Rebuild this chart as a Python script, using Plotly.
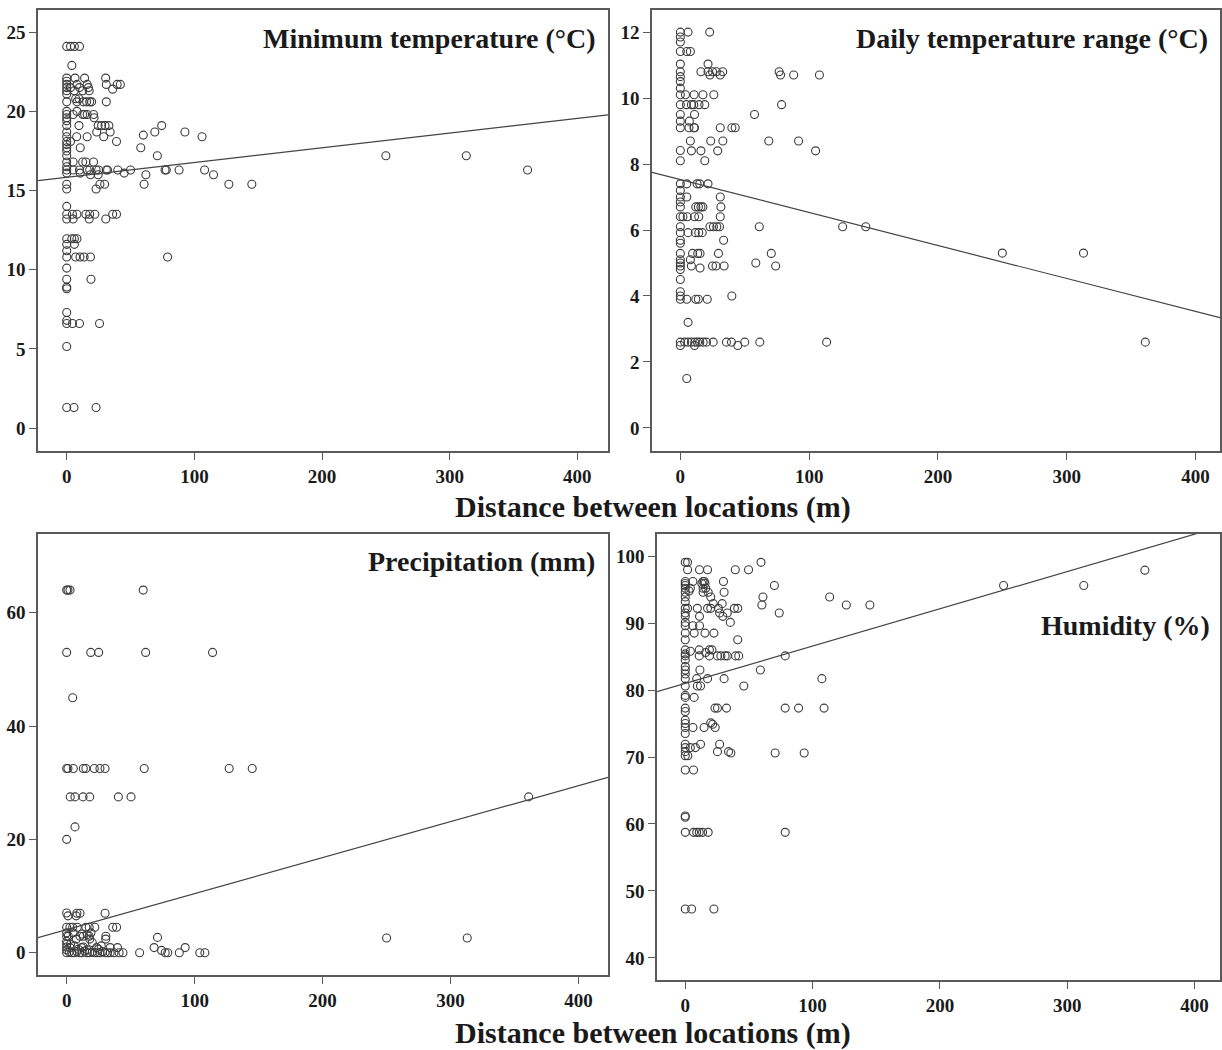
import plotly.graph_objects as go

# ---------------- data ----------------
# Minimum temperature (°C) vs distance (m)
tmin_x = [0]*42 + [
    3, 6, 10, 4,
    6.5, 14, 30.5,
    8, 16, 31, 39.5, 42,
    3, 10, 17, 36,
    6, 12.5, 17.6,
    8, 13, 15.6, 18, 19.5, 31,
    7, 9.6,
    8,
    5, 12.5, 14, 16, 21, 21.4,
    9.6, 24.6, 27.3, 30, 33, 74.4,
    23.5, 34, 69, 92.6,
    7.8, 16, 29, 60, 106,
    39, 3,
    10.6, 58,
    71,
    5, 12.5, 15, 21,
    5, 10, 16, 18, 23, 25, 31, 32, 40, 50, 77, 78, 88, 108,
    10.6, 18.6, 24.6, 45, 62, 115,
    26, 29.7, 60.6, 127, 145,
    23,
    4.5, 8, 15, 18, 22, 36, 39,
    5, 17.6, 30.6,
    4, 6, 8, 6,
    7, 10.4, 13.6, 18.6, 79,
    19,
    4.5, 10, 25.7,
    5.7, 23,
    250, 313, 361]
tmin_y = [24.1, 22.1, 21.9, 21.7, 21.5, 21.3, 21.1, 20.6, 20.0, 19.8, 19.6, 19.4,
          19.1, 18.7, 18.4, 18.1, 17.9, 17.7, 17.5, 17.2, 16.8, 16.5, 16.3, 16.1,
          15.4, 15.1, 14.0, 13.5, 13.2, 11.95, 11.6, 11.2, 10.8, 10.1, 9.4, 8.9,
          8.8, 7.3, 6.8, 6.6, 5.15, 1.3] + [
    24.1, 24.1, 24.1, 22.9,
    22.1, 22.1, 22.1,
    21.7, 21.7, 21.7, 21.7, 21.7,
    21.5, 21.5, 21.5, 21.4,
    21.3, 21.3, 21.3,
    20.6, 20.6, 20.6, 20.6, 20.6, 20.6,
    20.8, 20.8,
    20.0,
    19.8, 19.8, 19.8, 19.8, 19.8, 19.6,
    19.1, 19.1, 19.1, 19.1, 19.1, 19.1,
    18.7, 18.7, 18.7, 18.7,
    18.4, 18.4, 18.4, 18.5, 18.4,
    18.1, 18.1,
    17.7, 17.7,
    17.2,
    16.8, 16.8, 16.8, 16.8,
    16.3, 16.3, 16.3, 16.3, 16.3, 16.3, 16.3, 16.3, 16.3, 16.3, 16.3, 16.3, 16.3, 16.3,
    16.1, 16.0, 16.0, 16.1, 16.0, 16.0,
    15.4, 15.4, 15.4, 15.4, 15.4,
    15.1,
    13.5, 13.5, 13.5, 13.5, 13.5, 13.5, 13.5,
    13.2, 13.2, 13.2,
    11.95, 11.95, 11.95, 11.6,
    10.8, 10.8, 10.8, 10.8, 10.8,
    9.4,
    6.6, 6.6, 6.6,
    1.3, 1.3,
    17.2, 17.2, 16.3]

# Daily temperature range (°C) vs distance (m)
dtr_x = [0]*37 + [
    6, 22.8, 5, 7.8, 21.5,
    16, 21.5, 25, 28, 32.9, 76.7,
    23, 31, 77.8, 88, 108,
    4, 10.7, 17.6, 26,
    4.7, 8.6, 10.4, 14.5, 19, 78.6,
    11, 57.6, 7,
    6.7, 10.6, 11, 31, 40, 42.6,
    7.8, 23.6, 33, 68.7, 91.8,
    8.6, 16, 29, 105,
    19,
    5, 13, 15, 21.5,
    5, 31,
    12, 14, 16, 17.5, 31.5,
    2, 5.4, 11, 14.3, 31,
    23, 25.7, 28.3, 30.4, 61.3, 126, 144,
    6, 11.6, 14.3, 17,
    33.6,
    9.5, 13.5, 15.3, 29.6, 70.6,
    7.8, 58.6,
    8.6, 15.3, 25, 27.7, 34, 74,
    40,
    5, 12, 14, 20.9,
    6,
    3.4, 6, 8.6, 11.2, 13.3, 15.1, 17.7, 20.3, 25.5, 35.8, 39.7, 50, 61.7, 113.6,
    11, 44.6,
    5,
    250, 313, 361]
dtr_y = [12.0, 11.85, 11.7, 11.41, 11.03, 10.8, 10.65, 10.5, 10.3, 10.1, 9.8, 9.5,
         9.3, 9.1, 8.41, 8.1, 7.4, 7.2, 7.0, 6.85, 6.7, 6.4, 6.1, 5.92, 5.69, 5.6,
         5.29, 5.1, 5.0, 4.91, 4.8, 4.5, 4.13, 4.0, 3.9, 2.6, 2.5] + [
    12.0, 12.0, 11.41, 11.41, 11.03,
    10.8, 10.8, 10.8, 10.8, 10.8, 10.8,
    10.7, 10.7, 10.7, 10.7, 10.7,
    10.1, 10.1, 10.1, 10.1,
    9.8, 9.8, 9.8, 9.8, 9.8, 9.8,
    9.5, 9.5, 9.3,
    9.1, 9.1, 9.1, 9.1, 9.1, 9.1,
    8.7, 8.7, 8.7, 8.7, 8.7,
    8.4, 8.4, 8.4, 8.4,
    8.1,
    7.4, 7.4, 7.4, 7.4,
    7.0, 7.0,
    6.7, 6.7, 6.7, 6.7, 6.7,
    6.4, 6.4, 6.4, 6.4, 6.4,
    6.1, 6.1, 6.1, 6.1, 6.1, 6.1, 6.1,
    5.92, 5.92, 5.92, 5.92,
    5.69,
    5.29, 5.29, 5.29, 5.29, 5.29,
    5.1, 5.0,
    4.91, 4.85, 4.91, 4.91, 4.91, 4.91,
    4.0,
    3.9, 3.9, 3.9, 3.9,
    3.2,
    2.6, 2.6, 2.6, 2.6, 2.6, 2.6, 2.6, 2.6, 2.6, 2.6, 2.6, 2.6, 2.6, 2.6,
    2.5, 2.5,
    1.5,
    5.3, 5.3, 2.6]

# Precipitation (mm) vs distance (m)
prec_x = [0]*13 + [
    1, 2.6, 59.8,
    18.8, 25, 61.7, 114,
    4.7,
    1, 5.2, 13, 15, 21.6, 26, 30, 60.6, 127, 145,
    2.8, 6.5, 12.8, 18, 40.4, 50.3, 361,
    6.5,
    8, 10.4, 30, 1, 7.4,
    2.6, 4.7, 8.3, 15, 17.6, 22, 36, 39,
    1.3, 10.4, 13, 17.6, 30.6, 71,
    7.5, 18, 30.5,
    2.6, 11.7, 23.4, 34, 39.7, 68.3, 92.6,
    74.2,
    3, 6, 9, 13, 16, 20, 25, 27, 5, 12, 16, 19,
    2, 4, 6, 8, 10, 12, 14, 16, 18, 20, 22, 24, 26, 28, 30, 32, 34, 37, 41, 44,
    57, 77, 79, 88, 104, 108,
    250, 313]
prec_y = [64, 53, 32.5, 20, 7.0, 4.5, 3.5, 2.9, 2.0, 1.5, 1.0, 0.5, 0] + [
    64, 64, 64,
    53, 53, 53, 53,
    45,
    32.5, 32.5, 32.5, 32.5, 32.5, 32.5, 32.5, 32.5, 32.5, 32.5,
    27.5, 27.5, 27.5, 27.5, 27.5, 27.5, 27.5,
    22.2,
    6.95, 6.95, 6.95, 6.5, 6.5,
    4.5, 4.5, 4.5, 4.5, 4.5, 4.5, 4.5, 4.5,
    2.9, 2.9, 2.9, 2.9, 2.9, 2.7,
    2.4, 2.4, 2.4,
    0.9, 0.9, 0.9, 0.9, 0.9, 0.9, 0.9,
    0.4,
    1.5, 1.2, 0.6, 1.0, 0.5, 1.8, 0.6, 1.2, 3.5, 3.3, 3.2, 3.5,
    0.1, 0, 0, 0.2, 0, 0, 0.3, 0, 0, 0.1, 0, 0, 0, 0.2, 0, 0, 0, 0, 0, 0,
    0, 0, 0, 0, 0, 0,
    2.6, 2.6]

# Humidity (%) vs distance (m)
hum_x = [0]*41 + [
    1.8, 59.5,
    1.8, 11.2, 17.5, 39.3, 49.7,
    6, 13.9, 15, 30,
    13, 15.5,
    70,
    4, 14, 16, 3, 14, 18, 30.5,
    20, 61, 113.4,
    60.2, 126.5, 145,
    22, 29,
    1.8, 9.5, 17.5, 20, 26, 38.6, 41.2,
    33, 73.8, 27,
    11.2, 29.5,
    35.4,
    6, 11.2,
    7, 15.5, 22.5,
    41.2,
    11, 19, 21, 4, 16,
    11, 19, 25.3, 28, 31.3, 33, 39.5, 42, 78.5,
    11.5, 59,
    9, 17.5, 30.5, 107.3,
    9.5, 12, 46,
    7,
    23.3, 25.3, 32.4, 78.5, 89, 109,
    20, 21.5,
    6, 14.8, 23.5,
    12, 27, 4, 8,
    25.3, 34, 35.8, 70.6, 93.4, 2,
    6.5,
    6.5, 9, 11, 13.6, 18, 78.5,
    5, 22.5,
    250, 313, 361]
hum_y = [99.07, 96.2, 95.9, 95.6, 95.2, 94.6, 93.9, 93.2, 92.2, 91.5, 91.0, 90.1,
         89.6, 88.5, 87.5, 86.0, 85.4, 85.1, 84.5, 83.5, 83.0, 82.4, 81.7, 80.6,
         79.2, 78.9, 77.3, 76.8, 75.5, 75.0, 74.4, 73.5, 71.9, 71.4, 70.8, 70.2,
         68.05, 61.2, 61.0, 58.75, 47.3] + [
    99.07, 99.07,
    97.97, 97.97, 97.97, 97.97, 97.97,
    96.2, 96.2, 96.2, 96.2,
    95.9, 95.9,
    95.6,
    95.2, 95.2, 95.2, 94.8, 94.6, 94.6, 94.6,
    93.9, 93.9, 93.9,
    92.7, 92.7, 92.7,
    92.9, 92.9,
    92.2, 92.2, 92.2, 92.2, 92.2, 92.2, 92.2,
    91.5, 91.5, 91.5,
    91.0, 91.0,
    90.1,
    89.6, 89.6,
    88.5, 88.5, 88.5,
    87.5,
    86.0, 86.0, 86.0, 85.8, 85.6,
    85.1, 85.1, 85.1, 85.1, 85.1, 85.1, 85.1, 85.1, 85.1,
    83.0, 83.0,
    81.7, 81.7, 81.7, 81.7,
    80.6, 80.6, 80.6,
    78.9,
    77.3, 77.3, 77.3, 77.3, 77.3, 77.3,
    75.1, 74.9,
    74.4, 74.4, 74.4,
    71.9, 71.9, 71.4, 71.4,
    70.8, 70.8, 70.6, 70.6, 70.6, 70.2,
    68.05,
    58.75, 58.75, 58.75, 58.75, 58.75, 58.75,
    47.3, 47.3,
    95.6, 95.6, 97.9]

# fitted regression lines (intercept, slope)
fit_tmin = (15.84, 0.0093)
fit_dtr = (7.53, -0.0100)
fit_prec = (4.07, 0.0635)
fit_hum = (80.99, 0.0557)

panel_titles = ["Minimum temperature (°C)", "Daily temperature range (°C)",
                "Precipitation (mm)", "Humidity (%)"]
x_title = "Distance between locations (m)"
x_ticks = [0, 100, 200, 300, 400]
tmin_ticks = [0, 5, 10, 15, 20, 25]
dtr_ticks = [0, 2, 4, 6, 8, 10, 12]
prec_ticks = [0, 20, 40, 60]
hum_ticks = [40, 50, 60, 70, 80, 90, 100]

# ---------------- figure ----------------
W, H = 1222, 1050
SERIF = "Liberation Serif"
FRAME = "#5a5a5a"
MARK = "#3c3c3c"

panels = [
    dict(x=tmin_x, y=tmin_y, fit=fit_tmin, xr=[-22.5, 424], yr=[-1.45, 26.4],
         yt=tmin_ticks, dom_x=[38, 608], dom_y=[10, 451]),
    dict(x=dtr_x, y=dtr_y, fit=fit_dtr, xr=[-22, 419], yr=[-0.70, 12.67],
         yt=dtr_ticks, dom_x=[652, 1220], dom_y=[10, 451]),
    dict(x=prec_x, y=prec_y, fit=fit_prec, xr=[-22.4, 423], yr=[-3.94, 73.9],
         yt=prec_ticks, dom_x=[38, 608], dom_y=[534, 975]),
    dict(x=hum_x, y=hum_y, fit=fit_hum, xr=[-22.2, 420], yr=[36.7, 103.3],
         yt=hum_ticks, dom_x=[657, 1220], dom_y=[534, 980]),
]

fig = go.Figure()
layout = {}
for i, p in enumerate(panels, start=1):
    xa = "x" if i == 1 else f"x{i}"
    ya = "y" if i == 1 else f"y{i}"
    fig.add_trace(go.Scatter(
        x=p["x"], y=p["y"], mode="markers", xaxis=xa, yaxis=ya,
        marker=dict(symbol="circle-open", size=8, color=MARK, line=dict(width=1.1)),
        showlegend=False, hoverinfo="x+y"))
    b0, b1 = p["fit"]
    lx = [p["xr"][0], p["xr"][1]]
    ly = [b0 + b1 * v for v in lx]
    fig.add_trace(go.Scatter(
        x=lx, y=ly, mode="lines", xaxis=xa, yaxis=ya,
        line=dict(color="#444444", width=1.2), showlegend=False, hoverinfo="skip"))
    common = dict(showline=True, linecolor=FRAME, linewidth=1.6, mirror=True,
                  showgrid=False, zeroline=False, ticks="outside", ticklen=7,
                  tickcolor=FRAME, tickwidth=1.2,
                  tickfont=dict(family=SERIF, size=19, color="#1a1a1a", weight="bold"))
    xkey = "xaxis" if i == 1 else f"xaxis{i}"
    ykey = "yaxis" if i == 1 else f"yaxis{i}"
    layout[xkey] = dict(domain=[p["dom_x"][0] / W, p["dom_x"][1] / W],
                        range=p["xr"], tickvals=x_ticks, anchor=ya, **common)
    layout[ykey] = dict(domain=[1 - p["dom_y"][1] / H, 1 - p["dom_y"][0] / H],
                        range=p["yr"], tickvals=p["yt"], anchor=xa, **common)

fig.update_layout(**layout)

title_font = dict(family=SERIF, size=28, color="#1a1a1a", weight="bold")
title_pos = [(598, 38), (1210, 38), (597, 561), (1212, 625)]
annotations = []
for t, (px, py) in zip(panel_titles, title_pos):
    annotations.append(dict(text=t, x=px / W, y=1 - py / H, xref="paper", yref="paper",
                            xanchor="right", yanchor="middle", showarrow=False,
                            font=title_font))
for py in (507, 1033):
    annotations.append(dict(text=x_title, x=653 / W, y=1 - py / H, xref="paper",
                            yref="paper", xanchor="center", yanchor="middle",
                            showarrow=False,
                            font=dict(family=SERIF, size=30, color="#1a1a1a", weight="bold")))

fig.update_layout(width=W, height=H, margin=dict(l=0, r=0, t=0, b=0),
                  paper_bgcolor="white", plot_bgcolor="white",
                  annotations=annotations)

fig.write_html("out.html")
